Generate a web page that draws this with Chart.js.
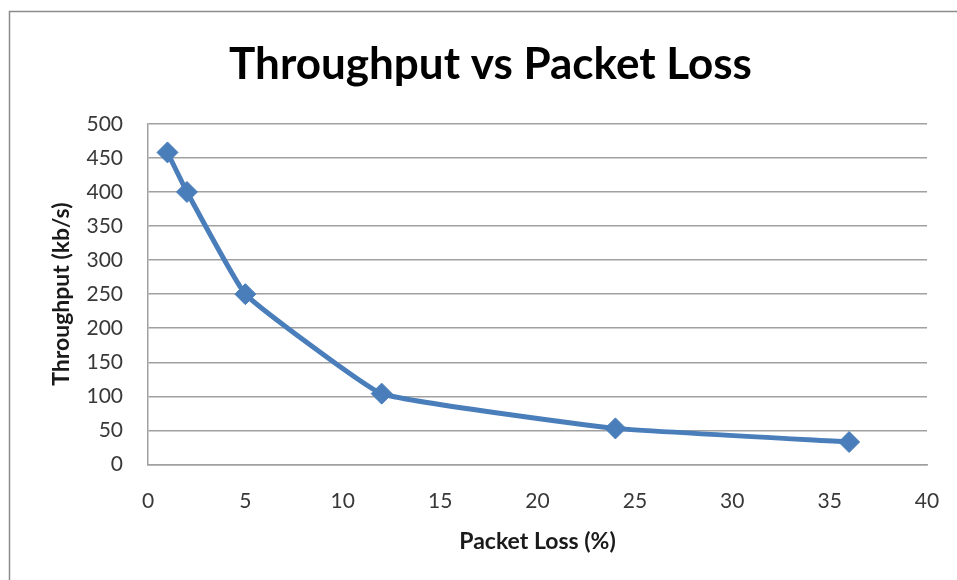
<!DOCTYPE html>
<html>
<head>
<meta charset="utf-8">
<script src="https://cdn.jsdelivr.net/npm/chart.js@4/dist/chart.umd.min.js"></script>
<style>
  html, body { margin: 0; padding: 0; background: #ffffff; overflow: hidden; }
  #wrap { position: relative; width: 957px; height: 580px; }
</style>
</head>
<body>
<div id="wrap"><canvas id="chart" width="957" height="580"></canvas></div>
<script>
// Packet loss (%) and measured throughput (kb/s)
const packetLoss = [1, 2, 5, 12, 24, 36];
const throughput = [458, 400, 250, 104, 53, 33];
const xTicks = [0, 5, 10, 15, 20, 25, 30, 35, 40];
const yTicks = [0, 50, 100, 150, 200, 250, 300, 350, 400, 450, 500];

const points = packetLoss.map((x, i) => ({ x: x, y: throughput[i] }));

// thin grey frame around the whole chart object
const framePlugin = {
  id: 'frame',
  beforeDraw(chart) {
    const ctx = chart.ctx;
    ctx.save();
    ctx.fillStyle = '#ffffff';
    ctx.fillRect(0, 0, chart.width, chart.height);
    ctx.strokeStyle = '#8c8c8c';
    ctx.lineWidth = 1.5;
    ctx.strokeRect(9.5, 11.5, 2000, 2000);
    ctx.restore();
  }
};

const FONT = 'Lato, "Open Sans", "Liberation Sans", sans-serif';
const CLEAR = 'rgba(0,0,0,0)';

new Chart(document.getElementById('chart'), {
  type: 'line',
  data: {
    datasets: [{
      data: points,
      borderColor: '#4a7ebb',
      backgroundColor: '#4a7ebb',
      borderWidth: 5,
      pointStyle: 'rectRot',
      pointRadius: 10.5,
      pointBorderWidth: 1,
      pointBorderColor: '#4a7ebb',
      pointBackgroundColor: '#4a7ebb',
      tension: 0.1,
      fill: false
    }]
  },
  options: {
    responsive: false,
    animation: false,
    layout: { padding: { left: 54, right: 30, top: 0, bottom: 0 } },
    plugins: {
      legend: { display: false },
      tooltip: { enabled: false },
      title: {
        display: true,
        text: 'Throughput vs Packet Loss',
        color: '#000000',
        font: { family: FONT, size: 44, weight: 'bold', lineHeight: 1.2 },
        padding: { top: 38, bottom: 33 }
      }
    },
    scales: {
      x: {
        type: 'linear',
        min: 0,
        max: 40,
        afterBuildTicks(scale) { scale.ticks = xTicks.map(v => ({ value: v })); },
        afterFit(scale) { scale.height = 115.5; },
        // no vertical gridlines; the invisible tick marks only set the label offset
        grid: { display: true, color: CLEAR, drawTicks: true, tickLength: 23, tickColor: CLEAR },
        border: { display: true, color: '#a0a0a0', width: 1.5 },
        ticks: {
          padding: 1,
          color: '#383838',
          font: { family: FONT, size: 21 }
        },
        title: {
          display: true,
          text: 'Packet Loss (%)',
          color: '#1a1a1a',
          font: { family: FONT, size: 23, weight: 'bold', lineHeight: 1.2 },
          padding: { top: 0, bottom: 25 }
        }
      },
      y: {
        min: 0,
        max: 500,
        afterBuildTicks(scale) { scale.ticks = yTicks.map(v => ({ value: v })); },
        afterFit(scale) { scale.width = 94; },
        grid: { color: '#a0a0a0', lineWidth: 1.5, drawTicks: false },
        border: { display: true, color: '#a0a0a0', width: 1.5 },
        ticks: {
          padding: 25,
          color: '#383838',
          font: { family: FONT, size: 21 }
        },
        title: {
          display: true,
          text: 'Throughput (kb/s)',
          color: '#1a1a1a',
          font: { family: FONT, size: 23, weight: 'bold', lineHeight: 1.2 },
          padding: { top: -6, bottom: 0 }
        }
      }
    }
  },
  plugins: [framePlugin]
});
</script>
</body>
</html>
